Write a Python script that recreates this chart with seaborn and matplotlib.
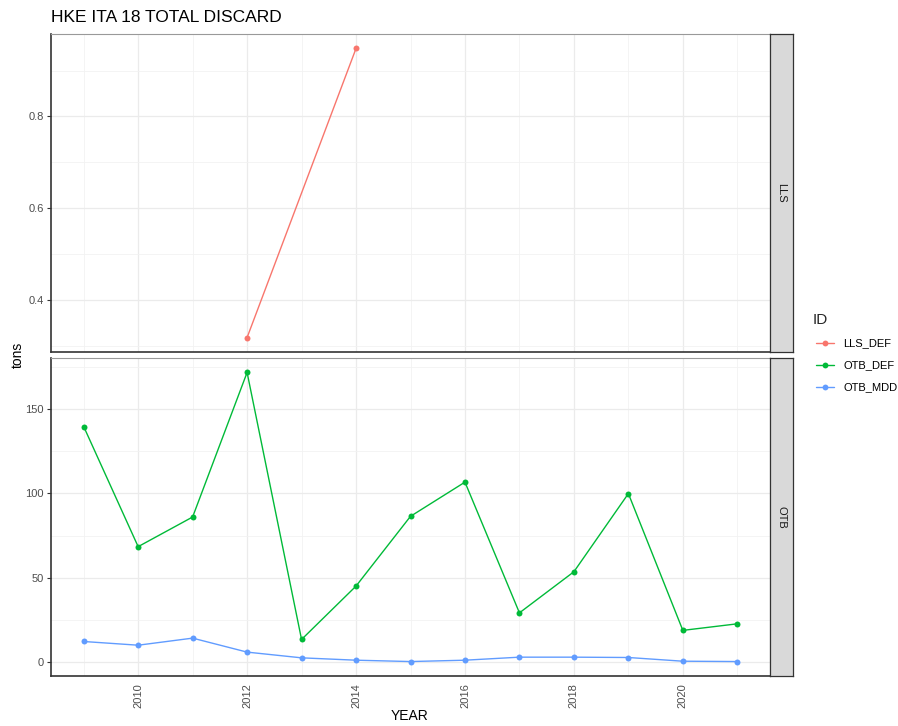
import matplotlib
matplotlib.use("Agg")
import matplotlib.pyplot as plt
from matplotlib.lines import Line2D
from matplotlib.ticker import MultipleLocator
import numpy as np
import pandas as pd
import seaborn as sns

sns.set_theme(style="white")
plt.rcParams['font.family'] = ['Liberation Sans', 'DejaVu Sans']

# ---- data ----
years_lls = [2012, 2014]
lls_def = [0.319, 0.948]

years_otb = list(range(2009, 2022))
otb_def = [139.7, 68.4, 86.0, 171.8, 13.3, 45.0, 86.4, 106.7, 29.1, 53.5, 99.9, 18.7, 22.6]
otb_mdd = [12.1, 9.9, 14.1, 5.8, 2.4, 1.0, 0.2, 1.0, 2.8, 2.8, 2.6, 0.4, 0.2]

ids = ["LLS_DEF", "OTB_DEF", "OTB_MDD"]
colors = ["#F8766D", "#00BA38", "#619CFF"]
panels = ["LLS", "OTB"]

df = pd.concat([
    pd.DataFrame({"YEAR": years_lls, "tons": lls_def, "ID": "LLS_DEF", "panel": "LLS"}),
    pd.DataFrame({"YEAR": years_otb, "tons": otb_def, "ID": "OTB_DEF", "panel": "OTB"}),
    pd.DataFrame({"YEAR": years_otb, "tons": otb_mdd, "ID": "OTB_MDD", "panel": "OTB"}),
])
palette = dict(zip(ids, colors))

W, H = 898, 726
fig = plt.figure(figsize=(W / 100, H / 100), dpi=100)

def frac(x0, y0, x1, y1):
    return [x0 / W, 1 - y1 / H, (x1 - x0) / W, (y1 - y0) / H]

panel_px = {"LLS": (51, 34, 770, 352), "OTB": (51, 358, 770, 676)}
xmin, xmax = 2009 - 0.6, 2021 + 0.6

for p in panels:
    x0, y0, x1, y1 = panel_px[p]
    ax = fig.add_axes(frac(x0, y0, x1, y1))
    sub = df[df.panel == p]
    sns.lineplot(data=sub, x="YEAR", y="tons", hue="ID", palette=palette,
                 marker="o", markersize=4.3, markeredgewidth=0, linewidth=1.0,
                 ax=ax, legend=False)
    ax.set_xlim(xmin, xmax)
    lo, hi = sub.tons.min(), sub.tons.max()
    pad = (hi - lo) * 0.05
    ax.set_ylim(lo - pad, hi + pad)
    ax.xaxis.set_major_locator(MultipleLocator(2))
    ax.xaxis.set_minor_locator(MultipleLocator(1))
    if p == "LLS":
        ax.yaxis.set_major_locator(MultipleLocator(0.2))
        ax.yaxis.set_minor_locator(MultipleLocator(0.1))
        ax.tick_params(axis="x", which="both", labelbottom=False, length=0)
    else:
        ax.yaxis.set_major_locator(MultipleLocator(50))
        ax.yaxis.set_minor_locator(MultipleLocator(25))
        ax.tick_params(axis="x", which="major", labelrotation=90, length=3,
                       width=0.8, color="#333333", labelsize=8, labelcolor="#4D4D4D", pad=2)
        ax.tick_params(axis="x", which="minor", length=0)
    ax.tick_params(axis="y", which="major", left=True, length=3, width=0.8, color="#333333",
                   labelsize=8, labelcolor="#4D4D4D", pad=2)
    ax.tick_params(axis="y", which="minor", length=0)
    ax.grid(True, which="major", color="#EBEBEB", linewidth=0.9)
    ax.grid(True, which="minor", color="#F2F2F2", linewidth=0.6)
    ax.set_axisbelow(True)
    ax.set_xlabel("")
    ax.set_ylabel("")
    for s in ["left", "bottom"]:
        ax.spines[s].set_color("#333333")
        ax.spines[s].set_linewidth(1.2)
    for s in ["top", "right"]:
        ax.spines[s].set_color("#999999")
        ax.spines[s].set_linewidth(0.8)
    ax.set_facecolor("white")

    # strip
    sax = fig.add_axes(frac(770, y0, 793, y1))
    sax.set_facecolor("#D9D9D9")
    sax.set_xticks([]); sax.set_yticks([])
    for s in sax.spines.values():
        s.set_color("#333333"); s.set_linewidth(0.9)
    sax.text(0.5, 0.5, p, rotation=-90, ha="center", va="center",
             fontsize=8, color="#1A1A1A", transform=sax.transAxes)

fig.text(51 / W, 1 - 18 / H, "HKE ITA 18 TOTAL DISCARD", fontsize=12.5,
         ha="left", va="center", color="black")
fig.text(18 / W, 1 - 355 / H, "tons", rotation=90, fontsize=10,
         ha="center", va="center", color="black")
fig.text(410 / W, 1 - 716 / H, "YEAR", fontsize=10,
         ha="center", va="center", color="black")

# legend
fig.text(813 / W, 1 - 320 / H, "ID", fontsize=11, ha="left", va="center")
for i, (lab, c) in enumerate(zip(ids, colors)):
    yy = 1 - (343 + i * 22) / H
    fig.add_artist(Line2D([816 / W, 834 / W], [yy, yy], color=c, linewidth=1.0,
                          transform=fig.transFigure))
    fig.add_artist(Line2D([825 / W], [yy], color=c, marker="o", markersize=4.2,
                          markeredgewidth=0, transform=fig.transFigure))
    fig.text(843 / W, yy, lab, fontsize=8, ha="left", va="center", color="black")

fig.savefig("out.png", dpi=100, facecolor="white")
